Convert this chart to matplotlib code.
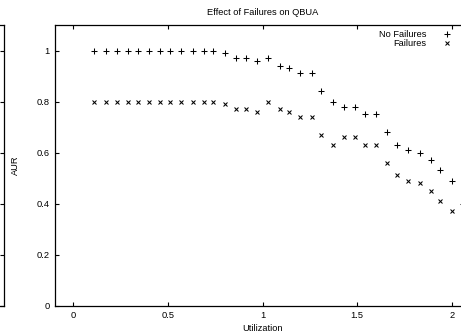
import matplotlib
matplotlib.use("Agg")
import matplotlib.pyplot as plt
from matplotlib.ticker import FuncFormatter

plt.rcParams['font.family'] = ['Liberation Sans', 'DejaVu Sans']

title = "Effect of Failures on QBUA"
xlabel = "Utilization"
ylabel = "AUR"
series_names = ["No Failures", "Failures"]

utilization = [0.11, 0.17, 0.23, 0.29, 0.34, 0.40, 0.46, 0.51, 0.57, 0.63,
               0.69, 0.74, 0.80, 0.86, 0.91, 0.97, 1.03, 1.09, 1.14, 1.20,
               1.26, 1.31, 1.37, 1.43, 1.49, 1.54, 1.60, 1.66, 1.71, 1.77,
               1.83, 1.89, 1.94, 2.00, 2.06]
aur_no_failures = [1.0, 1.0, 1.0, 1.0, 1.0, 1.0, 1.0, 1.0, 1.0, 1.0,
                   1.0, 1.0, 0.99, 0.97, 0.97, 0.96, 0.97, 0.94, 0.93, 0.91,
                   0.91, 0.84, 0.80, 0.78, 0.78, 0.75, 0.75, 0.68, 0.63, 0.61,
                   0.60, 0.57, 0.53, 0.49, 0.40]
aur_failures = [0.80, 0.80, 0.80, 0.80, 0.80, 0.80, 0.80, 0.80, 0.80, 0.80,
                0.80, 0.80, 0.79, 0.77, 0.77, 0.76, 0.80, 0.77, 0.76, 0.74,
                0.74, 0.67, 0.63, 0.66, 0.66, 0.63, 0.63, 0.56, 0.51, 0.49,
                0.48, 0.45, 0.41, 0.37, 0.28]

x_ticks = [0, 0.5, 1, 1.5, 2]
y_ticks = [0, 0.2, 0.4, 0.6, 0.8, 1]

W, H = 461, 334
fig = plt.figure(figsize=(W / 100, H / 100), dpi=100)

fs = 6.7
# main axes (right part cropped off the figure)
ax = fig.add_axes([54.5 / W, 1 - 305.5 / H, 416.2 / W, 280.5 / H])
ax.plot(utilization, aur_no_failures, linestyle='none', marker='+',
        markersize=4.0, markeredgewidth=0.75, color='black', label=series_names[0])
ax.plot(utilization, aur_failures, linestyle='none', marker='x',
        markersize=3.0, markeredgewidth=0.75, color='black', label=series_names[1])
ax.set_xlim(-0.1, 2.1)
ax.set_ylim(0, 1.1)
ax.set_xticks(x_ticks)
ax.set_yticks(y_ticks)
fmt = FuncFormatter(lambda v, p: '%g' % v)
ax.xaxis.set_major_formatter(fmt)
ax.yaxis.set_major_formatter(fmt)
ax.tick_params(direction='in', length=3.2, width=0.8, labelsize=fs,
               top=True, right=True, colors='black')
ax.tick_params(axis='y', pad=3.6)
ax.tick_params(axis='x', pad=4.0)
for s in ax.spines.values():
    s.set_linewidth(0.9)
ax.set_title(title, fontsize=fs, pad=7)
ax.set_xlabel(xlabel, fontsize=fs, labelpad=3)
ax.set_ylabel(ylabel, fontsize=fs)
ax.yaxis.set_label_coords(-0.084, 0.5)

leg = ax.legend(loc='upper right', bbox_to_anchor=(452 / W, 1 - 30 / H),
                bbox_transform=fig.transFigure, frameon=False, markerfirst=False,
                fontsize=fs, handlelength=1.0, handletextpad=1.75,
                labelspacing=0.0, borderpad=0, borderaxespad=0)
for col in leg._legend_handle_box.get_children():
    col.align = 'right'

# neighbouring panel, mostly cropped away on the left
ax2 = fig.add_axes([-0.8, 1 - 305.5 / H, 0.8 + 3.5 / W, 280.5 / H])
ax2.set_ylim(0, 1.1)
ax2.set_yticks(y_ticks)
ax2.set_xticks([])
ax2.tick_params(direction='in', length=3.2, width=0.8, left=False, right=True,
                labelleft=False, labelright=False)
for s in ax2.spines.values():
    s.set_linewidth(0.9)

fig.savefig("out.png", dpi=100)
